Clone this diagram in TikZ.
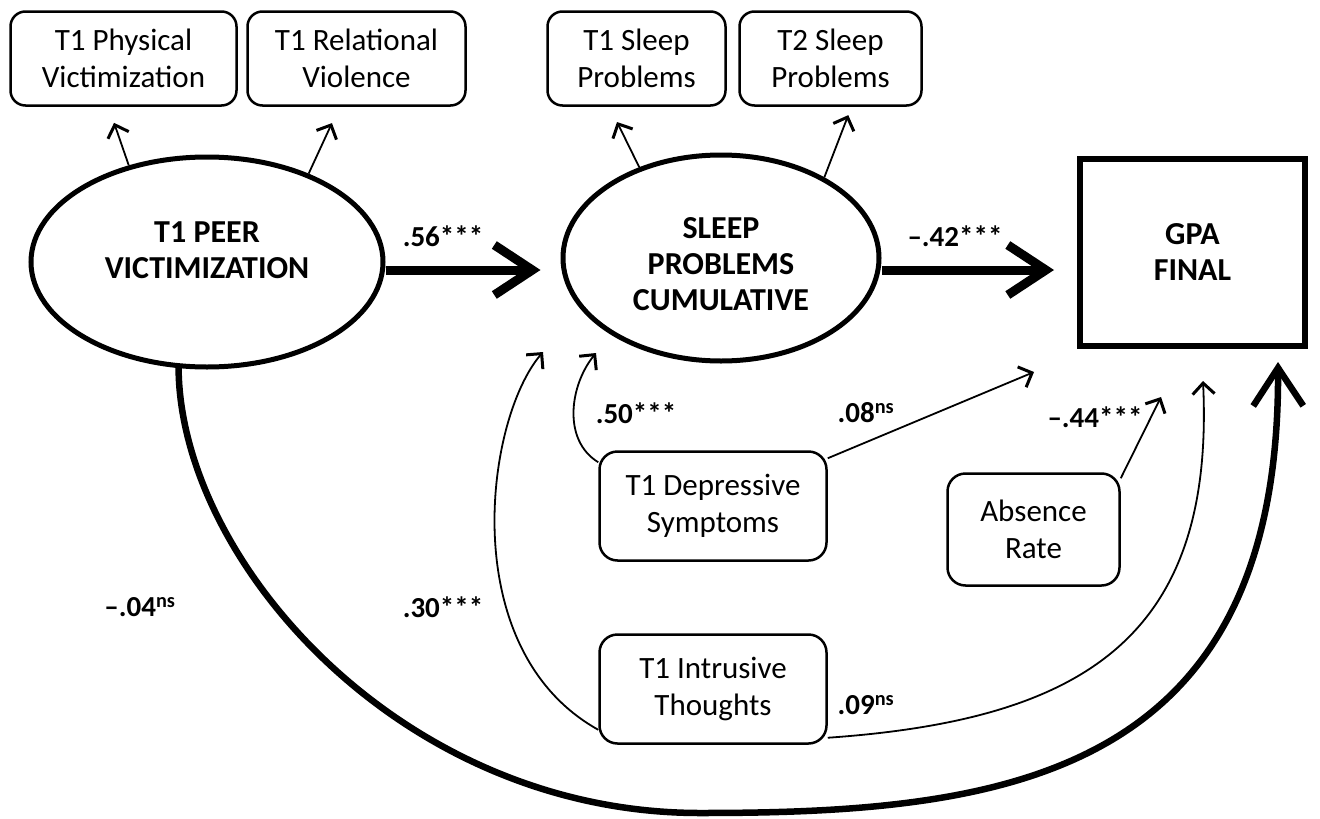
\documentclass[tikz,border=0pt]{standalone}
\usepackage{fontspec}
\setmainfont{Carlito}
\usetikzlibrary{arrows.meta,shapes.geometric}

\begin{document}
\begin{tikzpicture}[x=1pt,y=-1pt,
		box/.style={draw,line width=2.5pt,rounded corners=15pt,align=center,font=\fontsize{31}{37}\selectfont},
		latent/.style={draw,ellipse,line width=5pt},
		heavy/.style={align=center,font=\fontsize{32}{36}\selectfont\bfseries},
		coef/.style={font=\fontsize{29}{34}\selectfont\bfseries},
		ind/.style={line width=1.8pt,-{Straight Barb[length=11pt,width=22pt,line width=3pt]}},
		beta/.style={line width=9pt,-{Straight Barb[length=38pt,width=50pt]}},
		big/.style={line width=6.5pt,-{Straight Barb[length=38pt,width=50pt]}}]
	\useasboundingbox (0,0) rectangle (1320,819);
	% indicators
	\node[box,minimum width=226pt,minimum height=94pt] (phys) at (123.5,58.5) {T1 Physical\\Victimization};
	\node[box,minimum width=218pt,minimum height=94pt] (rel) at (356.5,58.5) {T1 Relational\\Violence};
	\node[box,minimum width=178pt,minimum height=94pt] (sl1) at (636.5,58.5) {T1 Sleep\\Problems};
	\node[box,minimum width=182pt,minimum height=94pt] (sl2) at (830.5,58.5) {T2 Sleep\\Problems};
	% factors and outcome
	\node[latent,minimum width=352pt,minimum height=210pt,label={[heavy,yshift=12pt]center:T1 PEER\\VICTIMIZATION}] (peer) at (207,262) {};
	\node[latent,minimum width=316pt,minimum height=206pt,label={[heavy,yshift=-6pt]center:SLEEP\\PROBLEMS\\CUMULATIVE}] (sleep) at (721,258) {};
	\node[draw,line width=6pt,minimum width=225pt,minimum height=187pt,heavy] (gpa) at (1192.5,252) {GPA\\FINAL};
	% covariates
	\node[box,rounded corners=18pt,minimum width=227pt,minimum height=109pt] (dep) at (713,506) {T1 Depressive\\Symptoms};
	\node[box,rounded corners=18pt,minimum width=172pt,minimum height=112pt] (abs) at (1033.5,529.5) {Absence\\Rate};
	\node[box,rounded corners=18pt,minimum width=227pt,minimum height=109pt] (intr) at (713,689) {T1 Intrusive\\Thoughts};
	% free arrow ends
	\coordinate (tip30) at (543,352);
	\coordinate (tip50) at (596,353);
	\coordinate (tip08) at (1034,372);
	\coordinate (tip44) at (1161,397);
	\coordinate (tip09) at (1203,381);
	\coordinate (tip04) at (1278,362);
	% loadings
	\draw[ind,shorten >=17pt] (peer.129) -- ([xshift=-15pt]phys.south);
	\draw[ind,shorten >=18pt] (peer.41) -- ([xshift=-17pt]rel.south);
	\draw[ind,shorten >=17pt] (sleep.132) -- ([xshift=-27pt]sl1.south);
	\draw[ind,shorten >=9pt] (sleep.38) -- ([xshift=21pt]sl2.south);
	% paths
	\draw[beta,shorten >=20pt] ([yshift=-8pt]peer.east) -- ([yshift=-12pt]sleep.west);
	\draw[beta,shorten >=23pt] ([yshift=-12pt]sleep.east) -- ([yshift=-18pt]gpa.west);
	\draw[ind] ([yshift=-12pt]dep.north west) .. controls (562,440) and (570,385) .. (tip50);
	\draw[ind] ([yshift=-8pt]dep.north east) -- (tip08);
	\draw[ind] ([yshift=-6pt]abs.north east) -- (tip44);
	\draw[ind] ([yshift=15pt]intr.south west) .. controls (455,650) and (485,420) .. (tip30);
	\draw[ind] ([yshift=7pt]intr.south east) .. controls (1080,720) and (1215,640) .. (tip09);
	\draw[big] (peer.255) .. controls (180,560) and (400,813) .. (700,813) .. controls (1000,813) and (1280,780) .. (tip04);
	% coefficients
	\node[coef] (b56) at (443,236) {.56***};
	\node[coef] (b42) at (955,236) {\textendash.42***};
	\node[coef] (b50) at (636,413) {.50***};
	\node[coef] (b08) at (866,413) {.08\textsuperscript{ns}};
	\node[coef] (b44) at (1095,417) {\textendash.44***};
	\node[coef] (b09) at (866,705) {.09\textsuperscript{ns}};
	\node[coef] (b30) at (443,607) {.30***};
	\node[coef] (b04) at (140,607) {\textendash.04\textsuperscript{ns}};
\end{tikzpicture}
\end{document}
